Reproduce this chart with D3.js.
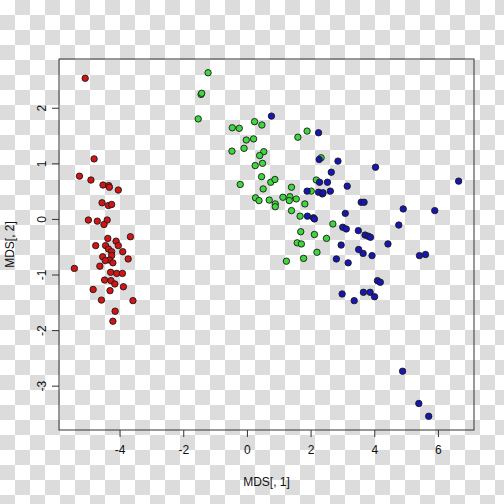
<!DOCTYPE html>
<html>
<head>
<meta charset="utf-8">
<script src="https://cdn.jsdelivr.net/npm/d3@7"></script>
<style>
  html, body { margin: 0; padding: 0; background: #fff; }
  svg { display: block; }
  text { font-family: "Liberation Sans", Arial, sans-serif; fill: #111; }
</style>
</head>
<body>
<svg></svg>
<script>
// MDS coordinates, one array per group: [MDS[,1], MDS[,2]]
const redPoints = [
  [-5.08, 2.53], [-4.80, 1.08], [-5.26, 0.77], [-4.90, 0.70], [-4.52, 0.61],
  [-4.34, 0.60], [-4.32, 0.57], [-4.04, 0.52], [-4.55, 0.29], [-4.35, 0.24],
  [-4.25, 0.26], [-4.98, -0.02], [-4.70, -0.04], [-4.39, -0.02], [-4.49, -0.10],
  [-4.37, -0.35], [-3.66, -0.32], [-4.11, -0.40], [-4.75, -0.48], [-4.44, -0.48],
  [-4.04, -0.48], [-4.35, -0.54], [-4.25, -0.59], [-3.90, -0.59], [-4.53, -0.68],
  [-4.25, -0.66], [-4.32, -0.74], [-4.45, -0.75], [-4.21, -0.79], [-3.73, -0.72],
  [-4.62, -0.85], [-5.42, -0.89], [-4.28, -0.96], [-4.09, -0.98], [-3.91, -0.98],
  [-4.47, -1.10], [-4.27, -1.11], [-4.15, -1.17], [-3.88, -1.22], [-4.83, -1.27],
  [-4.30, -1.29], [-4.57, -1.46], [-3.58, -1.47], [-4.14, -1.66], [-4.21, -1.84]
]

const greenPoints = [
  [-1.22, 2.63], [-1.44, 2.24], [-1.42, 2.26], [-1.53, 1.80], [-0.46, 1.64],
  [-0.24, 1.63], [0.24, 1.75], [0.47, 1.69], [1.89, 1.58], [1.60, 1.47],
  [-0.02, 1.42], [0.21, 1.44], [-0.47, 1.22], [-0.09, 1.27], [0.53, 1.21],
  [0.40, 1.14], [0.49, 1.00], [0.26, 0.96], [2.33, 1.10], [0.46, 0.76],
  [0.75, 0.66], [0.88, 0.71], [-0.21, 0.62], [0.51, 0.54], [1.40, 0.57],
  [2.18, 0.70], [2.02, 0.50], [0.27, 0.38], [0.38, 0.33], [0.70, 0.34],
  [1.13, 0.39], [1.35, 0.40], [1.33, 0.33], [1.55, 0.36], [0.89, 0.27],
  [0.89, 0.22], [1.82, 0.27], [1.40, 0.15], [1.67, 0.05], [2.70, -0.09],
  [1.69, -0.23], [2.12, -0.28], [2.50, -0.35], [1.58, -0.43], [1.71, -0.45],
  [2.20, -0.60], [1.78, -0.71], [1.24, -0.76]
]

const bluePoints = [
  [0.77, 1.85], [2.25, 1.55], [2.27, 1.07], [2.86, 1.04], [4.04, 0.93],
  [2.65, 0.84], [2.28, 0.66], [2.53, 0.66], [3.15, 0.59], [6.65, 0.68],
  [1.89, 0.50], [2.25, 0.48], [2.37, 0.45], [2.39, 0.47], [2.62, 0.50],
  [3.59, 0.30], [3.68, 0.30], [4.91, 0.18], [5.90, 0.15], [1.90, 0.05],
  [2.09, 0.02], [2.12, 0.00], [3.09, 0.10], [3.01, -0.15], [3.12, -0.18],
  [3.50, -0.21], [4.77, -0.11], [3.71, -0.29], [3.81, -0.31], [3.88, -0.33],
  [2.96, -0.47], [4.43, -0.45], [3.51, -0.55], [3.65, -0.62], [3.93, -0.66],
  [2.81, -0.72], [3.18, -0.79], [5.42, -0.66], [5.61, -0.64], [4.10, -1.11],
  [4.19, -1.14], [2.99, -1.35], [3.66, -1.32], [3.87, -1.32], [4.01, -1.40],
  [3.37, -1.47], [4.89, -2.74], [5.40, -3.32], [5.71, -3.55]
]

const groupColors = ['#d41414', '#3ed83e', '#1616b4']
const xTicks = [-4, -2, 0, 2, 4, 6]
const yTicks = [-3, -2, -1, 0, 1, 2]
const xLabel = 'MDS[, 1]'
const yLabel = 'MDS[, 2]'

let svgWidth = 504
let svgHeight = 504
let margin = {top: 59, right: 30, bottom: 74, left: 59}

const svg = d3.select('svg')
    .attr('width', svgWidth)
    .attr('height', svgHeight)

// transparent-background checkerboard, like the reference image
const defs = svg.append('defs')
const pat = defs.append('pattern')
    .attr('id', 'checker')
    .attr('width', 30).attr('height', 30)
    .attr('patternUnits', 'userSpaceOnUse')
pat.append('rect').attr('width', 30).attr('height', 30).attr('fill', '#ffffff')
pat.append('rect').attr('x', 15).attr('y', 0).attr('width', 15).attr('height', 15).attr('fill', '#dcdcdc')
pat.append('rect').attr('x', 0).attr('y', 15).attr('width', 15).attr('height', 15).attr('fill', '#dcdcdc')

svg.append('rect')
    .attr('width', svgWidth).attr('height', svgHeight)
    .attr('fill', 'url(#checker)')

const groups = [redPoints, greenPoints, bluePoints]
const allPoints = groups.flat()

// R style: pad the data range by 4% on each side
const pad = (ext) => {
    let d = (ext[1] - ext[0]) * 0.04
    return [ext[0] - d, ext[1] + d]
}

const xScale = d3.scaleLinear()
    .domain(pad(d3.extent(allPoints, d => d[0])))
    .range([margin.left, svgWidth - margin.right])

const yScale = d3.scaleLinear()
    .domain(pad(d3.extent(allPoints, d => d[1])))
    .range([svgHeight - margin.bottom, margin.top])

// points
groups.forEach((pts, i) => {
    svg.append('g')
        .selectAll('circle')
        .data(pts)
        .enter()
        .append('circle')
        .attr('cx', d => xScale(d[0]))
        .attr('cy', d => yScale(d[1]))
        .attr('r', 3.2)
        .attr('fill', groupColors[i])
        .attr('stroke', '#1a1a1a')
        .attr('stroke-width', 0.9)
})

// box
svg.append('rect')
    .attr('x', margin.left)
    .attr('y', margin.top)
    .attr('width', svgWidth - margin.left - margin.right)
    .attr('height', svgHeight - margin.top - margin.bottom)
    .attr('fill', 'none')
    .attr('stroke', '#333')
    .attr('stroke-width', 1)

// axes
let xAxis = d3.axisBottom(xScale)
    .tickValues(xTicks)
    .tickSizeOuter(0)
    .tickSize(7)
    .tickPadding(8)
    .tickFormat(d3.format('d'))
let gx = svg.append('g')
    .attr('transform', 'translate(0,' + (svgHeight - margin.bottom) + ')')
    .call(xAxis)
gx.select('.domain').remove()
gx.selectAll('line').attr('stroke', '#333')
gx.selectAll('text')
    .attr('font-size', 12)
    .attr('font-family', '"Liberation Sans", Arial, sans-serif')
    .attr('fill', '#111')
    .text(d => d < 0 ? '-' + Math.abs(d) : d)

let yAxis = d3.axisLeft(yScale)
    .tickValues(yTicks)
    .tickSizeOuter(0)
    .tickSize(7)
    .tickFormat(d3.format('d'))
let gy = svg.append('g')
    .attr('transform', 'translate(' + margin.left + ',0)')
    .call(yAxis)
gy.select('.domain').remove()
gy.selectAll('line').attr('stroke', '#333')
gy.selectAll('text')
    .attr('font-size', 12)
    .attr('font-family', '"Liberation Sans", Arial, sans-serif')
    .attr('fill', '#111')
    .attr('x', null).attr('dy', null)
    .attr('text-anchor', 'middle')
    .attr('transform', 'translate(-17,0) rotate(-90)')
    .attr('dominant-baseline', 'central')
    .text(d => d < 0 ? '-' + Math.abs(d) : d)

// axis titles
svg.append('text')
    .attr('x', (margin.left + svgWidth - margin.right) / 2)
    .attr('y', 486)
    .attr('text-anchor', 'middle')
    .attr('font-size', 12)
    .text(xLabel)

svg.append('text')
    .attr('transform', 'translate(14,' + ((margin.top + svgHeight - margin.bottom) / 2) + ') rotate(-90)')
    .attr('text-anchor', 'middle')
    .attr('font-size', 12)
    .text(yLabel)
</script>
</body>
</html>
